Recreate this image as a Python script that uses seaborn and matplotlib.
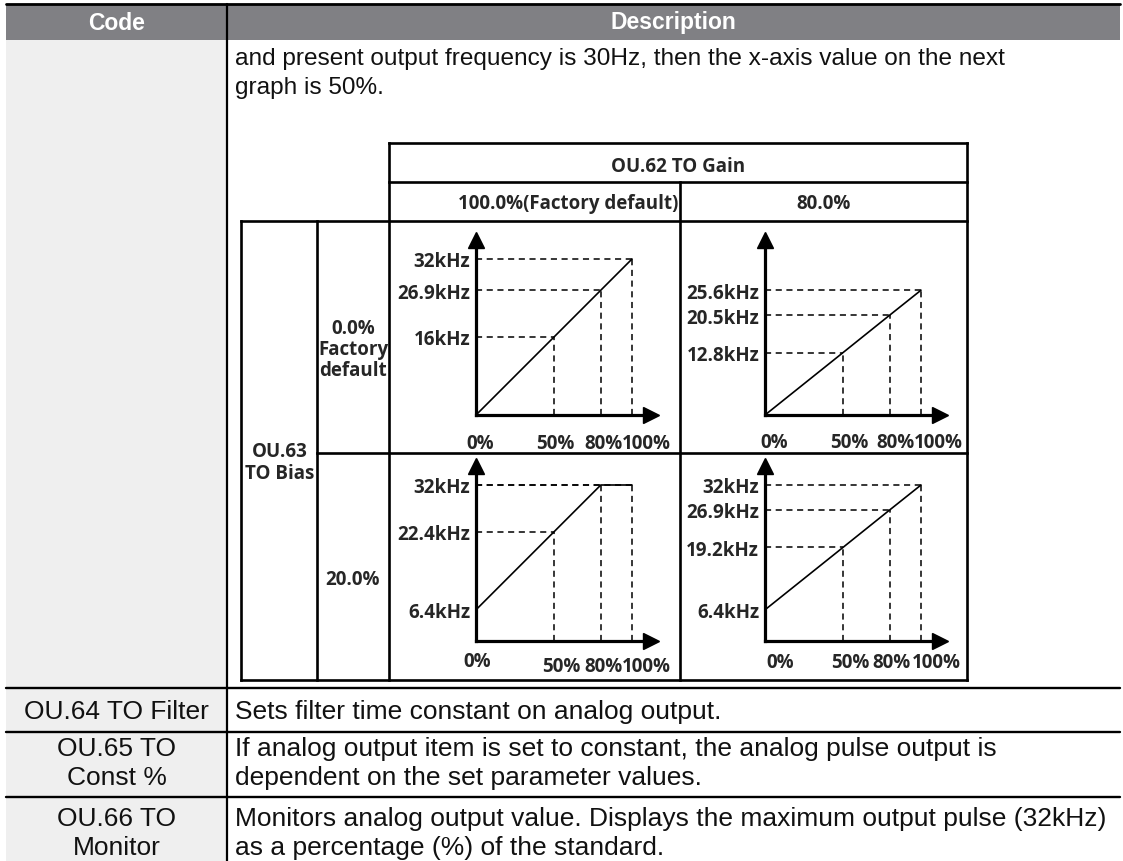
import numpy as np
import pandas as pd
import matplotlib
matplotlib.use("Agg")
import matplotlib.pyplot as plt
import matplotlib.transforms as mtransforms
from matplotlib.patches import Rectangle
import seaborn as sns

# ---------------- data ----------------
header_labels = ["Code", "Description"]
row_codes = ["", "OU.64 TO Filter", "OU.65 TO\nConst %", "OU.66 TO\nMonitor"]
row_descriptions = [
    "and present output frequency is 30Hz, then the x-axis value on the next\ngraph is 50%.",
    "Sets filter time constant on analog output.",
    "If analog output item is set to constant, the analog pulse output is\ndependent on the set parameter values.",
    "Monitors analog output value. Displays the maximum output pulse (32kHz)\nas a percentage (%) of the standard.",
]
gain_title = "OU.62 TO Gain"
gain_options = ["100.0%(Factory default)", "80.0%"]
bias_title = "OU.63\nTO Bias"
bias_options = ["0.0%\nFactory\ndefault", "20.0%"]

input_pct = [0, 50, 80, 100]
x_tick_labels = ["0%", "50%", "80%", "100%"]

# output pulse frequency (kHz) at input_pct, per (bias row, gain column)
out_b0_g100 = [0.0, 16.0, 25.6, 32.0]
out_b0_g80 = [0.0, 12.8, 20.5, 25.6]
out_b20_g100 = [6.4, 22.4, 32.0, 32.0]
out_b20_g80 = [6.4, 19.2, 26.9, 32.0]

ylab_b0_g100_vals = [16.0, 25.6, 32.0]
ylab_b0_g100_text = ["16kHz", "26.9kHz", "32kHz"]
ylab_b0_g80_vals = [12.8, 20.5, 25.6]
ylab_b0_g80_text = ["12.8kHz", "20.5kHz", "25.6kHz"]
ylab_b20_g100_vals = [6.4, 22.4, 32.0]
ylab_b20_g100_text = ["6.4kHz", "22.4kHz", "32kHz"]
ylab_b20_g80_vals = [6.4, 19.2, 26.9, 32.0]
ylab_b20_g80_text = ["6.4kHz", "19.2kHz", "26.9kHz", "32kHz"]

# ---------------- style ----------------
sns.set_theme(style="white")
plt.rcParams["font.family"] = ["Liberation Sans", "DejaVu Sans"]
GFONT = ["Open Sans", "DejaVu Sans"]
GW = "bold"

W, H = 1123, 862
fig = plt.figure(figsize=(W / 100, H / 100), dpi=100)
base = fig.add_axes([0, 0, 1, 1])
base.set_xlim(0, W)
base.set_ylim(H, 0)
base.axis("off")

# ---- outer table ----
TL, TR = 6, 1120
CDIV = 227
HEAD_T, HEAD_B = 5, 41
row_lines = [41, 689, 733, 798, 870]
base.add_patch(Rectangle((TL, HEAD_T), TR - TL, HEAD_B - HEAD_T, color="#808084", lw=0, zorder=1))
base.add_patch(Rectangle((TL, HEAD_B), CDIV - TL, H - HEAD_B, color="#efefef", lw=0, zorder=1))
base.plot([TL, TR], [HEAD_T, HEAD_T], color="black", lw=2.0, zorder=3)
for yl in row_lines[1:-1]:
    base.plot([TL, TR], [yl, yl], color="black", lw=1.7, zorder=3)
base.plot([CDIV, CDIV], [HEAD_T, H], color="black", lw=1.6, zorder=3)

base.text((TL + CDIV) / 2, 23, header_labels[0], color="white", fontsize=16.5,
          fontweight="bold", ha="center", va="center", zorder=4)
base.text((CDIV + TR) / 2, 23, header_labels[1], color="white", fontsize=16.5,
          fontweight="bold", ha="center", va="center", zorder=4)

row_fs = [17.6, 19.0, 19.0, 19.0]
LSP = 29
row_first_line = [59, 712, 749, 819]
for i in range(len(row_codes)):
    y0 = row_first_line[i]
    for k, line in enumerate(row_codes[i].split("\n")):
        base.text((TL + CDIV) / 2, y0 + k * LSP, line, fontsize=row_fs[i],
                  ha="center", va="center", color="#111111", zorder=4)
    for k, line in enumerate(row_descriptions[i].split("\n")):
        base.text(235, y0 + k * LSP, line, fontsize=row_fs[i],
                  ha="left", va="center", color="#111111", zorder=4)

# ---- inner table ----
IL, IB1, IB2, IR = 241, 317, 389, 967
IGDIV = 680
IT, IH1, IH2, IMID, IBOT = 144, 183, 222, 454, 681
ilw = 1.9
seg = [
    ((IB2, IR), (IT, IT)), ((IB2, IR), (IH1, IH1)), ((IL, IR), (IH2, IH2)),
    ((IB1, IR), (IMID, IMID)), ((IL, IR), (IBOT, IBOT)),
    ((IL, IL), (IH2, IBOT)), ((IB1, IB1), (IH2, IBOT)), ((IB2, IB2), (IT, IBOT)),
    ((IGDIV, IGDIV), (IH1, IBOT)), ((IR, IR), (IT, IBOT)),
]
for (xs, ys) in seg:
    base.plot(xs, ys, color="black", lw=ilw, solid_capstyle="projecting", zorder=3)

GFS = 13.5
base.text((IB2 + IR) / 2, (IT + IH1) / 2 + 3, gain_title, fontsize=GFS, family=GFONT,
          fontweight=GW, ha="center", va="center")
base.text(IGDIV - 2, (IH1 + IH2) / 2 + 2, gain_options[0], fontsize=GFS, family=GFONT,
          fontweight=GW, ha="right", va="center")
base.text((IGDIV + IR) / 2, (IH1 + IH2) / 2 + 2, gain_options[1], fontsize=GFS, family=GFONT,
          fontweight=GW, ha="center", va="center")
base.text((IL + IB1) / 2 + 1, 463, bias_title, fontsize=GFS, family=GFONT,
          fontweight=GW, ha="center", va="center", linespacing=1.1)
base.text((IB1 + IB2) / 2, 350, bias_options[0], fontsize=GFS, family=GFONT,
          fontweight=GW, ha="center", va="center", linespacing=1.05)
base.text((IB1 + IB2) / 2, 580, bias_options[1], fontsize=GFS, family=GFONT,
          fontweight=GW, ha="center", va="center")

# ---- mini graphs ----
PX_PER_PCT = 1.56
PX_PER_KHZ = 4.875
AX_PX = 175.0
panels = [
    dict(origin=(476, 416), y=out_b0_g100, yv=ylab_b0_g100_vals, yt=ylab_b0_g100_text,
         xoff=[4, 1, 3, 14], yoff=[28, 28, 28, 28]),
    dict(origin=(765, 416), y=out_b0_g80, yv=ylab_b0_g80_vals, yt=ylab_b0_g80_text,
         xoff=[9, 6, 6, 17], yoff=[27, 27, 27, 27]),
    dict(origin=(476, 642), y=out_b20_g100, yv=ylab_b20_g100_vals, yt=ylab_b20_g100_text,
         xoff=[1, 7, 3, 14], yoff=[20, 25, 25, 25]),
    dict(origin=(765, 642), y=out_b20_g80, yv=ylab_b20_g80_vals, yt=ylab_b20_g80_text,
         xoff=[15, 7, 2, 15], yoff=[21, 21, 21, 21]),
]

for p in panels:
    ox, oy = p["origin"]
    ax = fig.add_axes([ox / W, (H - oy) / H, AX_PX / W, AX_PX / H])
    ax.set_facecolor("none")
    ax.set_xlim(0, AX_PX / PX_PER_PCT)
    ax.set_ylim(0, AX_PX / PX_PER_KHZ)
    df = pd.DataFrame({"pct": input_pct, "khz": p["y"]})
    # dashed guides
    for xv, yv in zip(input_pct[1:], p["y"][1:]):
        ax.plot([0, xv], [yv, yv], color="black", lw=1.1, dashes=(4, 3), zorder=2)
        ax.plot([xv, xv], [0, yv], color="black", lw=1.1, dashes=(4, 3), zorder=2)
    sns.lineplot(data=df, x="pct", y="khz", ax=ax, color="black", lw=1.2, zorder=3)
    ax.set_xlabel("")
    ax.set_ylabel("")
    for s in ["top", "right"]:
        ax.spines[s].set_visible(False)
    for s in ["left", "bottom"]:
        ax.spines[s].set_color("black")
        ax.spines[s].set_linewidth(2.3)
        ax.spines[s].set_zorder(4)
    ax.set_xticks([])
    ax.set_yticks(p["yv"])
    ax.set_yticklabels(p["yt"])
    ax.tick_params(axis="y", length=0, pad=4.2, labelsize=GFS)
    for t in ax.get_yticklabels():
        t.set_family(GFONT)
        t.set_fontweight(GW)
    ax.plot(1, 0, ">", color="black", ms=11, transform=ax.transAxes, clip_on=False)
    ax.plot(0, 1, "^", color="black", ms=11, transform=ax.transAxes, clip_on=False)
    for xv, lab, dx, dy in zip(input_pct, x_tick_labels, p["xoff"], p["yoff"]):
        tr = mtransforms.offset_copy(ax.transData, fig=fig, x=dx, y=-dy, units="dots")
        ax.text(xv, 0, lab, transform=tr, fontsize=GFS, family=GFONT,
                fontweight=GW, ha="center", va="center", clip_on=False)

fig.savefig("out.png", dpi=100)
